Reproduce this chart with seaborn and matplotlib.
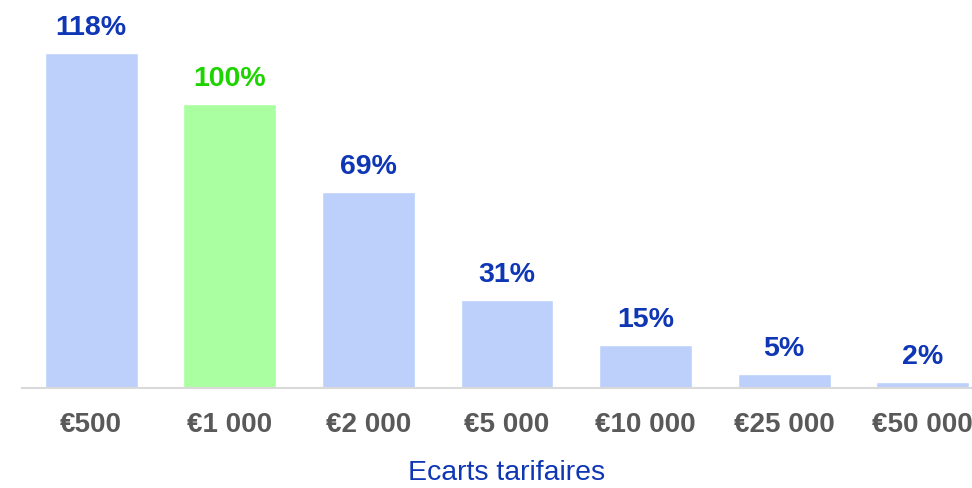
import matplotlib
matplotlib.use("Agg")
import matplotlib.pyplot as plt
import seaborn as sns
import pandas as pd

categories = ["€500", "€1 000", "€2 000", "€5 000", "€10 000", "€25 000", "€50 000"]
values = [118, 100, 69, 31, 15, 5, 2]
highlight = [False, True, False, False, False, False, False]

BAR_BLUE = "#bdd0fc"
BAR_GREEN = "#aaffa0"
TXT_BLUE = "#0f36b4"
TXT_GREEN = "#1ed400"

sns.set_theme(style="white")
plt.rcParams['font.family'] = ['Liberation Sans', 'DejaVu Sans']

df = pd.DataFrame({"cat": categories, "val": values,
                   "grp": ["hl" if h else "base" for h in highlight]})

fig = plt.figure(figsize=(9.72, 4.88), dpi=100)
ax = fig.add_axes([22 / 972, 100 / 488, 970 / 972, 388 / 488])

sns.barplot(data=df, x="cat", y="val", hue="grp", dodge=False,
            palette={"base": BAR_BLUE, "hl": BAR_GREEN},
            width=0.67, legend=False, ax=ax, saturation=1)

ax.set_ylim(0, 136.6)
ax.set_xlim(-0.5, 6.5)

for i, (v, h) in enumerate(zip(values, highlight)):
    ax.annotate(f"{v}%", (i, v), xytext=(0, 25), textcoords="offset pixels",
                ha="center", va="center", fontsize=20.5, fontweight="bold",
                color=TXT_GREEN if h else TXT_BLUE)

for s in ["top", "right", "left"]:
    ax.spines[s].set_visible(False)
ax.spines["bottom"].set_color("#d9d9d9")
ax.spines["bottom"].set_linewidth(1.5)
ax.set_yticks([])
ax.set_ylabel("")
ax.tick_params(axis="x", length=0, pad=17, labelsize=20, labelcolor="#595959")
for lbl in ax.get_xticklabels():
    lbl.set_fontweight("bold")
ax.set_xlabel("Ecarts tarifaires", fontsize=20.5, color=TXT_BLUE, labelpad=16)

fig.savefig("out.png", dpi=100)
